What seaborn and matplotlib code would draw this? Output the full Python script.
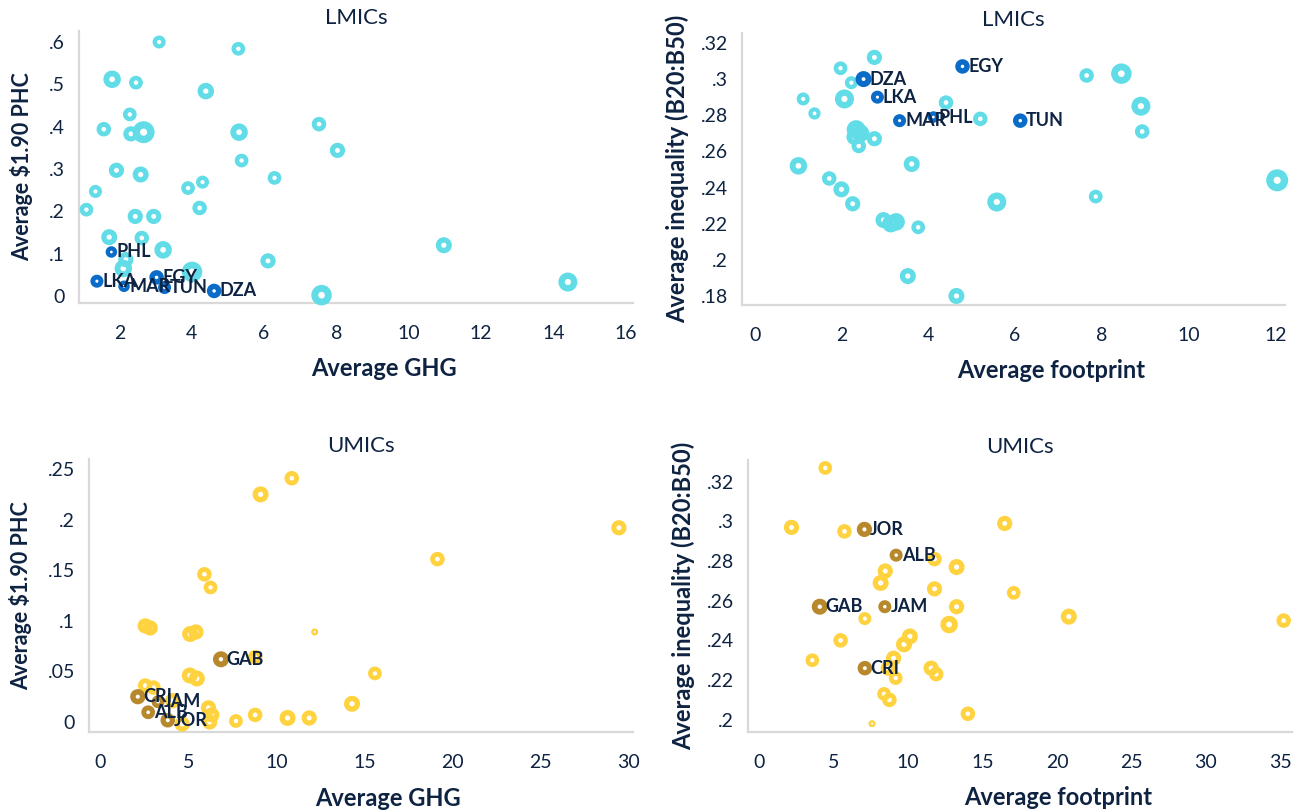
import numpy as np
import pandas as pd
import matplotlib
matplotlib.use("Agg")
import matplotlib.pyplot as plt
import seaborn as sns

sns.set_theme(style="white")
plt.rcParams["font.family"] = ["Lato", "DejaVu Sans"]

NAVY = "#0E2341"
CYAN = "#62DDE8"
BLUE = "#0A6CC8"
YELLOW = "#FFD23F"
BROWN = "#B8892C"
SPINE = "#D9D9D9"

# ---------------- LMICs: GHG vs $1.90 poverty headcount ----------------
lmic_ghg = [3.10, 5.29, 1.80, 2.46, 4.39, 2.29, 1.57, 2.32, 2.67, 5.31, 7.52,
            8.03, 5.38, 1.92, 2.59, 6.29, 1.34, 3.90, 4.30, 1.09, 2.44, 2.95,
            4.22, 1.72, 2.62, 3.21, 2.18, 2.11, 4.01, 6.11, 10.97, 14.40, 7.59]
lmic_phc = [0.600, 0.584, 0.512, 0.504, 0.484, 0.429, 0.394, 0.383, 0.387,
            0.387, 0.406, 0.344, 0.320, 0.297, 0.287, 0.279, 0.247, 0.255,
            0.269, 0.204, 0.188, 0.188, 0.208, 0.139, 0.137, 0.109, 0.086,
            0.065, 0.057, 0.083, 0.120, 0.033, 0.002]
lmic_phc_wt = [16, 20, 49, 20, 40, 20, 25, 30, 100, 49, 25, 30, 20, 30, 36, 20,
               16, 20, 16, 20, 30, 30, 25, 36, 25, 49, 30, 49, 81, 30, 36, 64, 81]

lmic_codes = ["PHL", "LKA", "MAR", "EGY", "TUN", "DZA"]
lmic_code_ghg = [1.78, 1.38, 2.13, 3.03, 3.25, 4.62]
lmic_code_phc = [0.104, 0.035, 0.023, 0.044, 0.020, 0.012]
lmic_code_phc_wt = [9, 16, 9, 25, 16, 25]

# ---------------- LMICs: footprint vs inequality ----------------
lmic_fp = [2.76, 1.98, 2.23, 1.12, 2.07, 1.38, 4.41, 7.65, 8.45, 8.90, 8.93,
           5.20, 2.34, 2.44, 2.30, 2.76, 2.40, 1.01, 3.62, 1.72, 2.00, 2.26,
           5.58, 7.86, 12.04, 2.97, 3.14, 3.26, 3.77, 3.53, 4.65]
lmic_ineq = [0.312, 0.306, 0.298, 0.289, 0.289, 0.281, 0.287, 0.302, 0.303,
             0.285, 0.271, 0.278, 0.272, 0.270, 0.268, 0.267, 0.263, 0.252,
             0.253, 0.245, 0.239, 0.231, 0.232, 0.235, 0.244, 0.222, 0.220,
             0.221, 0.218, 0.191, 0.180]
lmic_ineq_wt = [30, 20, 16, 16, 64, 12, 25, 25, 81, 64, 25, 25, 64, 49, 36, 30,
                25, 49, 36, 25, 36, 30, 64, 20, 100, 36, 49, 49, 20, 36, 36]

lmic_code_fp = [4.12, 2.83, 3.34, 4.79, 6.12, 2.51]
lmic_code_ineq = [0.279, 0.290, 0.277, 0.307, 0.277, 0.300]
lmic_code_ineq_wt = [9, 16, 16, 25, 25, 36]

# ---------------- UMICs: GHG vs $1.90 poverty headcount ----------------
umic_ghg = [10.87, 9.10, 29.44, 19.14, 5.91, 6.26, 2.55, 2.83, 5.10, 5.43,
            12.17, 15.59, 5.08, 5.48, 14.29, 2.55, 3.02, 6.14, 6.33, 6.21,
            7.70, 8.79, 10.63, 11.86, 4.65, 8.79, 4.10]
umic_phc = [0.241, 0.225, 0.192, 0.161, 0.146, 0.133, 0.095, 0.093, 0.087,
            0.089, 0.089, 0.048, 0.046, 0.043, 0.018, 0.036, 0.034, 0.014,
            0.007, 0.000, 0.001, 0.007, 0.004, 0.004, -0.002, 0.064, 0.021]
umic_phc_wt = [25, 36, 30, 25, 25, 20, 30, 30, 36, 30, 0, 20, 36, 36, 36, 25,
               25, 30, 30, 30, 20, 25, 36, 30, 30, 25, 30]

umic_codes = ["GAB", "CRI", "JAM", "ALB", "JOR"]
umic_code_ghg = [6.85, 2.13, 3.28, 2.72, 3.83]
umic_code_phc = [0.062, 0.025, 0.020, 0.0096, 0.0017]
umic_code_phc_wt = [36, 30, 16, 20, 25]

# ---------------- UMICs: footprint vs inequality ----------------
umic_fp = [4.43, 2.16, 5.72, 16.48, 11.77, 13.25, 8.46, 8.15, 11.77, 17.09,
           13.25, 7.09, 20.79, 35.22, 12.75, 10.11, 9.72, 5.46, 3.56, 9.02,
           8.66, 11.54, 11.88, 9.16, 8.38, 8.74, 14.01, 7.57]
umic_ineq = [0.327, 0.297, 0.295, 0.299, 0.281, 0.277, 0.275, 0.269, 0.266,
             0.264, 0.257, 0.251, 0.252, 0.250, 0.248, 0.242, 0.238, 0.240,
             0.230, 0.231, 0.226, 0.226, 0.223, 0.221, 0.213, 0.210, 0.203,
             0.198]
umic_ineq_wt = [20, 30, 25, 30, 25, 36, 30, 36, 30, 20, 30, 16, 36, 25, 49, 36,
                36, 25, 20, 30, 30, 30, 25, 20, 20, 25, 25, 0]

umic_code_fp = [4.06, 7.09, 8.43, 9.19, 7.06]
umic_code_ineq = [0.257, 0.226, 0.257, 0.283, 0.296]
umic_code_ineq_wt = [36, 25, 16, 16, 30]

FIG_W, FIG_H = 1301, 811
fig = plt.figure(figsize=(FIG_W / 100, FIG_H / 100), dpi=100)


def add_axes_px(left, top, right, bottom):
    return fig.add_axes([left / FIG_W, 1 - bottom / FIG_H,
                         (right - left) / FIG_W, (bottom - top) / FIG_H])


def ring_style(weights, hole):
    """Hollow-ring marker size (pt^2) and edge width (pt) from a weight."""
    w = np.asarray(weights, dtype=float)
    outer_px = 7 + 1.5 * np.sqrt(w)
    outer_pt = outer_px * 72 / 100
    lw = outer_pt * (1 - hole) / 2
    d = outer_pt * (1 + hole) / 2
    return d ** 2, lw


def rings(ax, x, y, wt, color, hole=0.33):
    df = pd.DataFrame({"x": x, "y": y})
    s, lw = ring_style(wt, hole)
    sns.scatterplot(data=df, x="x", y="y", s=s, facecolor="none",
                    edgecolor=color, linewidth=lw, ax=ax, legend=False,
                    clip_on=False, zorder=3)


def label_points(ax, codes, x, y):
    for c, xv, yv in zip(codes, x, y):
        ax.annotate(c, (xv, yv), xytext=(4, 0), textcoords="offset points",
                    ha="left", va="center", fontsize=13, fontweight="bold",
                    color=NAVY, zorder=5)


def style_axes(ax, title, xlabel, ylabel, ylab_size, xticks, xtl, yticks, ytl,
               xlim, ylim, xlab_x, ylab_x):
    ax.set_xlim(*xlim)
    ax.set_ylim(*ylim)
    ax.set_xticks(xticks)
    ax.set_xticklabels(xtl)
    ax.set_yticks(yticks)
    ax.set_yticklabels(ytl)
    for side in ("top", "right"):
        ax.spines[side].set_visible(False)
    for side in ("left", "bottom"):
        ax.spines[side].set_color(SPINE)
        ax.spines[side].set_linewidth(1.6)
    ax.tick_params(axis="both", length=0, labelsize=14, labelcolor=NAVY)
    ax.tick_params(axis="x", pad=16)
    ax.tick_params(axis="y", pad=10)
    ax.set_title(title, fontsize=16, color=NAVY, pad=5)
    ax.set_xlabel(xlabel, fontsize=17, fontweight="bold", color=NAVY)
    ax.set_ylabel(ylabel, fontsize=ylab_size, fontweight="bold", color=NAVY)
    ax.xaxis.set_label_coords(xlab_x, -0.2)
    ax.yaxis.set_label_coords(ylab_x, 0.5)
    ax.grid(False)


def fmt(v):
    s = f"{v:g}"
    return s[1:] if s.startswith("0.") else s


# Top-left
ax1 = add_axes_px(79, 31, 633, 303)
rings(ax1, lmic_ghg, lmic_phc, lmic_phc_wt, CYAN)
rings(ax1, lmic_code_ghg, lmic_code_phc, lmic_code_phc_wt, BLUE, hole=0.25)
label_points(ax1, lmic_codes, lmic_code_ghg, lmic_code_phc)
t = list(range(2, 17, 2))
yt = [0, 0.1, 0.2, 0.3, 0.4, 0.5, 0.6]
style_axes(ax1, "LMICs", "Average GHG", r"Average \$1.90 PHC", 15.5,
           t, [str(v) for v in t], yt, [fmt(v) for v in yt],
           (0.885, 16.2), (-0.0165, 0.626), 0.55, -0.083)

# Top-right
ax2 = add_axes_px(742, 33, 1285, 305)
rings(ax2, lmic_fp, lmic_ineq, lmic_ineq_wt, CYAN)
rings(ax2, lmic_code_fp, lmic_code_ineq, lmic_code_ineq_wt, BLUE, hole=0.25)
label_points(ax2, lmic_codes, lmic_code_fp, lmic_code_ineq)
t = list(range(0, 13, 2))
yt = [0.18, 0.2, 0.22, 0.24, 0.26, 0.28, 0.3, 0.32]
style_axes(ax2, "LMICs", "Average footprint", "Average inequality (B20:B50)", 17,
           t, [str(v) for v in t], yt, [fmt(v) for v in yt],
           (-0.29, 12.22), (0.175, 0.3255), 0.57, -0.097)

# Bottom-left
ax3 = add_axes_px(89, 459, 633, 732)
rings(ax3, umic_ghg, umic_phc, umic_phc_wt, YELLOW)
rings(ax3, umic_code_ghg, umic_code_phc, umic_code_phc_wt, BROWN, hole=0.28)
label_points(ax3, umic_codes, umic_code_ghg, umic_code_phc)
t = list(range(0, 31, 5))
yt = [0, 0.05, 0.1, 0.15, 0.2, 0.25]
style_axes(ax3, "UMICs", "Average GHG", r"Average \$1.90 PHC", 15.5,
           t, [str(v) for v in t], yt, [fmt(v) for v in yt],
           (-0.64, 30.24), (-0.0099, 0.26), 0.55, -0.105)

# Bottom-right
ax4 = add_axes_px(748, 460, 1292, 732)
rings(ax4, umic_fp, umic_ineq, umic_ineq_wt, YELLOW)
rings(ax4, umic_code_fp, umic_code_ineq, umic_code_ineq_wt, BROWN, hole=0.28)
label_points(ax4, umic_codes, umic_code_fp, umic_code_ineq)
t = list(range(0, 36, 5))
yt = [0.2, 0.22, 0.24, 0.26, 0.28, 0.3, 0.32]
style_axes(ax4, "UMICs", "Average footprint", "Average inequality (B20:B50)", 17,
           t, [str(v) for v in t], yt, [fmt(v) for v in yt],
           (-0.76, 35.78), (0.1938, 0.331), 0.57, -0.097)

fig.savefig("out.png", dpi=100, facecolor="white")
